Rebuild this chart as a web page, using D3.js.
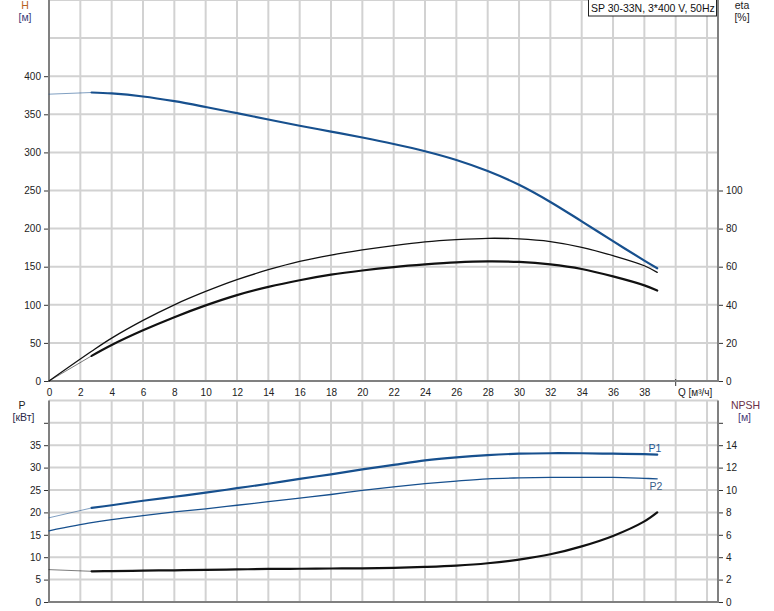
<!DOCTYPE html>
<html>
<head>
<meta charset="utf-8">
<script src="https://cdn.jsdelivr.net/npm/d3@7/dist/d3.min.js"></script>
<style>
  html, body { margin: 0; padding: 0; background: #fff; }
  svg { display: block; font-family: "Liberation Sans", Arial, sans-serif; }
</style>
</head>
<body>
<svg id="chart" width="774" height="611"></svg>
<script>
// ---------- DATA ----------
const title = "SP 30-33N, 3*400 V, 50Hz";
const flow = [0, 2.72, 4, 6, 8, 10, 12, 14, 16, 18, 20, 22, 24, 26, 28, 30, 32, 34, 36, 38, 38.82];
const head = [376.4, 378.6, 377.4, 373.4, 367.2, 359.6, 351.5, 343.2, 335, 327.3, 319.5, 311, 301.5, 290, 275.5, 257.5, 235, 209.5, 183.5, 158, 148];
const etaPump = [0, 15.6, 22.5, 31.8, 40, 47, 53.2, 58.4, 62.8, 66.1, 68.8, 71.1, 73, 74.2, 74.9, 74.6, 73.2, 70.2, 65.8, 60.5, 57];
const etaTotal = [0, 13.2, 18.9, 26.6, 33.5, 39.7, 45.1, 49.4, 52.9, 55.8, 58, 59.8, 61.2, 62.3, 62.8, 62.5, 61.2, 58.8, 54.9, 50.2, 47.5];
const powerP1 = [18.8, 21.0, 21.6, 22.6, 23.5, 24.4, 25.4, 26.4, 27.5, 28.5, 29.6, 30.6, 31.6, 32.3, 32.8, 33.1, 33.2, 33.2, 33.1, 33.0, 32.9];
const powerP2 = [15.9, 17.7, 18.4, 19.3, 20.1, 20.8, 21.6, 22.4, 23.2, 24.0, 24.9, 25.7, 26.4, 27.0, 27.5, 27.7, 27.8, 27.8, 27.8, 27.6, 27.5];
const npsh = [2.89, 2.74, 2.76, 2.8, 2.83, 2.87, 2.91, 2.95, 2.97, 2.99, 3.01, 3.05, 3.13, 3.25, 3.46, 3.79, 4.26, 4.97, 5.9, 7.2, 8.0];

const qTicks = d3.range(0, 39, 2);          // 0..38
const qGrid = d3.range(2, 43, 2);           // 2..42
const hTicks = d3.range(0, 401, 50);
const hGrid = d3.range(50, 501, 50);
const etaTicks = d3.range(0, 101, 20);
const pTicks = d3.range(0, 41, 5);
const pGrid = d3.range(5, 46, 5);
const npshTicks = d3.range(0, 17, 2);

// ---------- LAYOUT ----------
const L = 49, R = 718;
const topY0 = 381, topY1 = 0;
const botY0 = 602, botY1 = 400.4;

const x = d3.scaleLinear().domain([0, 42.7]).range([L, R]);
const yH = d3.scaleLinear().domain([0, 500]).range([topY0, topY1]);
const yEta = d3.scaleLinear().domain([0, 200]).range([topY0, topY1]);
const yP = d3.scaleLinear().domain([0, 45]).range([botY0, botY1]);
const yN = d3.scaleLinear().domain([0, 18]).range([botY0, botY1]);

const svg = d3.select("#chart");
const BLUE = "#17508e";
const GRID = "#d2d2d2";
const AXIS = "#808080";
const TXT = "#222";

// ---------- GRIDS ----------
const grid = svg.append("g");
function vgrid(y0, y1) {
  grid.selectAll(null).data(qGrid).enter().append("line")
    .attr("x1", d => x(d)).attr("x2", d => x(d))
    .attr("y1", y0).attr("y2", y1)
    .attr("stroke", GRID).attr("stroke-width", 2);
}
vgrid(topY0, topY1);
vgrid(botY0, botY1);
grid.selectAll(null).data(hGrid).enter().append("line")
  .attr("x1", L).attr("x2", R).attr("y1", d => yH(d)).attr("y2", d => yH(d))
  .attr("stroke", GRID).attr("stroke-width", 2);
grid.selectAll(null).data(pGrid).enter().append("line")
  .attr("x1", L).attr("x2", R).attr("y1", d => yP(d)).attr("y2", d => yP(d))
  .attr("stroke", GRID).attr("stroke-width", 2);

// ---------- AXES ----------
function styleAxis(g) {
  g.select(".domain").remove();
  g.selectAll(".tick line").attr("stroke", "#333");
  g.selectAll(".tick text").attr("fill", TXT).style("font-size", "10px")
    .style("font-family", "Liberation Sans, Arial, sans-serif");
}
svg.append("g").attr("transform", `translate(${L},0)`)
  .call(d3.axisLeft(yH).tickValues(hTicks).tickSize(5).tickPadding(3).tickFormat(d3.format("d")))
  .call(styleAxis);
svg.append("g").attr("transform", `translate(${R},0)`)
  .call(d3.axisRight(yEta).tickValues(etaTicks).tickSize(5).tickPadding(3).tickFormat(d3.format("d")))
  .call(styleAxis);
svg.append("g").attr("transform", `translate(0,${topY0})`)
  .call(d3.axisBottom(x).tickValues(qTicks).tickSize(0).tickPadding(8).tickFormat(d3.format("d")))
  .call(styleAxis);
svg.append("g").attr("transform", `translate(${L},0)`)
  .call(d3.axisLeft(yP).tickValues(pTicks).tickSize(5).tickPadding(3).tickFormat(d => d === 40 ? "" : d))
  .call(styleAxis);
svg.append("g").attr("transform", `translate(${R},0)`)
  .call(d3.axisRight(yN).tickValues(npshTicks).tickSize(5).tickPadding(3).tickFormat(d => d === 16 ? "" : d))
  .call(styleAxis);

// small tick at Q=40
svg.append("line").attr("x1", x(40)).attr("x2", x(40)).attr("y1", topY0 - 2).attr("y2", topY0 + 5)
  .attr("stroke", "#333");

// axis frame lines
const frame = svg.append("g").attr("stroke", AXIS).attr("stroke-width", 2).attr("fill", "none");
frame.append("line").attr("x1", L).attr("x2", L).attr("y1", topY1).attr("y2", topY0 + 1);
frame.append("line").attr("x1", R).attr("x2", R).attr("y1", topY1).attr("y2", topY0 + 1);
frame.append("line").attr("x1", L).attr("x2", R + 1).attr("y1", topY0).attr("y2", topY0);
frame.append("line").attr("x1", L).attr("x2", L).attr("y1", botY1).attr("y2", botY0 + 1);
frame.append("line").attr("x1", R).attr("x2", R).attr("y1", botY1).attr("y2", botY0 + 1);
frame.append("line").attr("x1", L).attr("x2", R + 1).attr("y1", botY0).attr("y2", botY0);

// ---------- CURVES ----------
const curves = svg.append("g").attr("fill", "none").attr("stroke-linecap", "round");
function pts(vals) { return flow.map((q, i) => [q, vals[i]]); }
function drawSeries(vals, y, color, thickW, thinW, allThin) {
  const p = pts(vals);
  const line = d3.line().x(d => x(d[0])).y(d => y(d[1])).curve(d3.curveCatmullRom.alpha(0.5));
  const lin = d3.line().x(d => x(d[0])).y(d => y(d[1]));
  if (allThin) {
    curves.append("path").attr("d", line(p)).attr("stroke", color).attr("stroke-width", thinW);
  } else {
    curves.append("path").attr("d", lin(p.slice(0, 2))).attr("stroke", color)
      .attr("stroke-width", 1).attr("stroke-opacity", 0.55);
    curves.append("path").attr("d", line(p.slice(1))).attr("stroke", color).attr("stroke-width", thickW);
  }
}
drawSeries(head, yH, BLUE, 2.2, 1, false);
drawSeries(etaPump, yEta, "#111", 2, 1.3, true);
drawSeries(etaTotal, yEta, "#111", 2.2, 1, false);
drawSeries(powerP1, yP, BLUE, 2.2, 1, false);
drawSeries(powerP2, yP, BLUE, 2, 1.3, true);
drawSeries(npsh, yN, "#111", 2.2, 1, false);

// ---------- LABELS ----------
const lab = svg.append("g").style("font-size", "10.5px").attr("text-anchor", "middle");
lab.append("text").attr("x", 25).attr("y", 8.5).attr("fill", "#b8601e").text("H");
lab.append("text").attr("x", 25).attr("y", 20.5).attr("fill", "#3c3c78").text("[м]");
lab.append("text").attr("x", 742).attr("y", 9).attr("fill", TXT).text("eta");
lab.append("text").attr("x", 742).attr("y", 20.5).attr("fill", TXT).text("[%]");
lab.append("text").attr("x", 22).attr("y", 408.5).attr("fill", TXT).text("P");
lab.append("text").attr("x", 23.5).attr("y", 420.5).attr("fill", "#2a2a4a").text("[кВт]");
lab.append("text").attr("x", 745.5).attr("y", 408.5).attr("fill", "#6a3048").text("NPSH");
lab.append("text").attr("x", 744.5).attr("y", 420.5).attr("fill", "#4a3c78").text("[м]");

svg.append("text").attr("x", 678).attr("y", 396).style("font-size", "10px").attr("fill", TXT)
  .text("Q [м³/ч]");

// series labels
svg.append("text").attr("x", 648.5).attr("y", 452).style("font-size", "10.5px").attr("fill", "#1f5a96").text("P1");
svg.append("text").attr("x", 649.5).attr("y", 490).style("font-size", "10.5px").attr("fill", "#3b5e88").text("P2");

// title box
const tb = svg.append("g");
tb.append("rect").attr("x", 588.5).attr("y", -1).attr("width", 128).attr("height", 17)
  .attr("fill", "#fff").attr("stroke", "#222").attr("stroke-width", 1);
tb.append("text").attr("x", 591).attr("y", 12).style("font-size", "10.5px").attr("fill", "#111").text(title);
</script>
</body>
</html>
